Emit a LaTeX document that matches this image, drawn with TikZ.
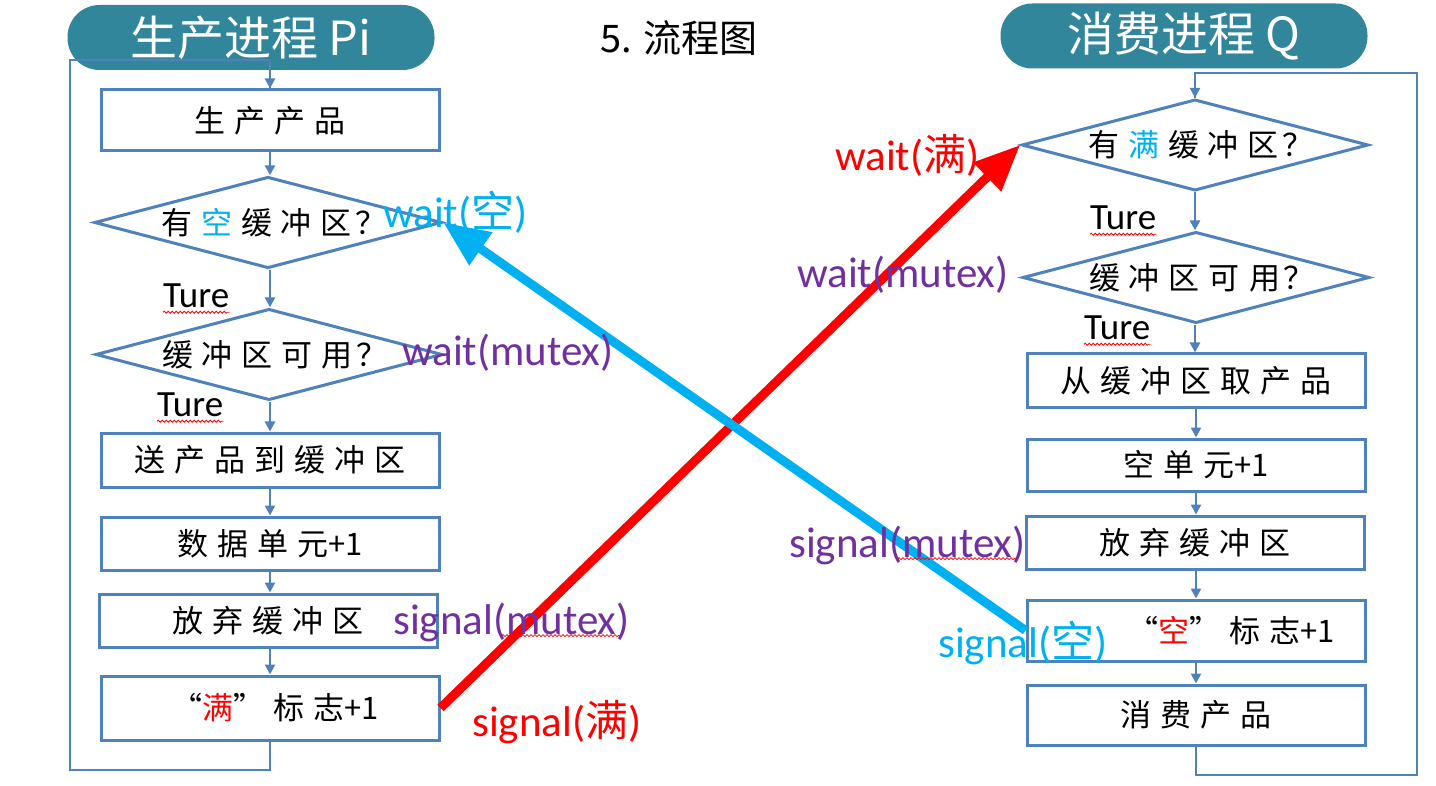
\documentclass[tikz,border=0pt]{standalone}
\usepackage{fontspec}
\setmainfont{Carlito}
\newfontfamily\cjk{Noto Sans CJK SC}
\usetikzlibrary{shapes.geometric,arrows.meta,decorations.pathmorphing}
\definecolor{teal1}{RGB}{49,134,155}
\definecolor{flowblue}{RGB}{79,129,189}
\definecolor{cyan1}{RGB}{0,176,240}
\definecolor{purp}{RGB}{112,48,160}
\newcommand\ks{\hspace{9pt}}
\begin{document}
\begin{tikzpicture}[x=1pt,y=-1pt,
 box/.style={draw=flowblue, line width=3pt, minimum width=338pt, inner sep=0pt, font=\cjk\fontsize{31}{31}\selectfont},
 dia/.style={draw=flowblue, line width=3pt, diamond, aspect=3.8, minimum width=340pt, minimum height=89pt, inner sep=0pt, font=\cjk\fontsize{31}{31}\selectfont},
 flow/.style={draw=flowblue, line width=2.5pt, -{Triangle[length=10pt,width=10pt]}},
 loopline/.style={draw=flowblue, line width=2.5pt},
 pill/.style={fill=teal1, rounded corners=32pt, minimum width=367pt, minimum height=65pt, inner sep=0pt, text=white, font=\cjk\fontsize{47}{47}\selectfont},
 lbl/.style={anchor=west, inner sep=0pt, font=\fontsize{43}{43}\selectfont},
 ture/.style={anchor=west, inner sep=0pt, font=\fontsize{37}{37}\selectfont},
 big/.style={line width=9pt, -{Triangle[length=46pt,width=38pt]}},
 spell/.style={draw=red, line width=0.8pt, decorate, decoration={snake, amplitude=1pt, segment length=4pt}}
]
\useasboundingbox[fill=white] (0,0) rectangle (1436,786);

% titles
\node[pill] (pL) at (251,37.5) {生产进程 Pi};
\node[pill] (pR) at (1184,36) {消费进程 Q};
\node[font=\cjk\fontsize{38}{38}\selectfont, inner sep=0pt] (ttl) at (679,38) {5. 流程图};

% left column
\node[box, minimum height=61pt] (b1) at (270,120.5) {生\ks 产\ks 产\ks 品};
\node[dia] (d1) at (268,222.5) {\hspace{12pt}有\ks{\color{cyan1}空}\ks 缓\ks 冲\ks 区\hspace{4pt}？};
\node[dia, minimum width=343pt] (d2) at (269,354.5) {\hspace{12pt}缓\ks 冲\ks 区\ks 可\ks 用\hspace{4pt}？};
\node[box, minimum height=54pt] (b3) at (270,460) {送\ks 产\ks 品\ks 到\ks 缓\ks 冲\ks 区};
\node[box, minimum height=53pt] (b4) at (270,543.5) {数\ks 据\ks 单\ks 元+1};
\node[box, minimum height=53pt] (b5) at (268,620.5) {放\ks 弃\ks 缓\ks 冲\ks 区};
\node[box, minimum height=64pt] (b6) at (270,708) {\hspace{10pt}“{\color{red}满}”\ks 标\ks 志+1};
\coordinate (lb) at (70,770);
\coordinate (lt) at (70,60);

% right column
\node[dia, minimum height=90pt] (rd1) at (1195,145) {\hspace{12pt}有\ks{\color{cyan1}满}\ks 缓\ks 冲\ks 区\hspace{4pt}？};
\node[dia, minimum width=338pt] (rd2) at (1196,277.5) {\hspace{12pt}缓\ks 冲\ks 区\ks 可\ks 用\hspace{4pt}？};
\node[box, minimum height=54pt] (r1) at (1196,381) {从\ks 缓\ks 冲\ks 区\ks 取\ks 产\ks 品};
\node[box, minimum height=52pt] (r2) at (1196,465) {空\ks 单\ks 元+1};
\node[box, minimum height=53pt] (r3) at (1195,542.5) {放\ks 弃\ks 缓\ks 冲\ks 区};
\node[box, minimum height=61pt] (r4) at (1196,630.5) {\hspace{70pt}“{\color{red}空}”\ks 标\ks 志+1};
\node[box, minimum height=60pt] (r5) at (1196,715) {消\ks 费\ks 产\ks 品};
\coordinate (rb) at (1417,775);
\coordinate (rt) at (1417,73);

% flow connectors
\draw[loopline] (b6.south) |- (lb) -- (lt) -| ([yshift=-1pt]b1.north);
\draw[flow] (lt -| b1.north) -- (b1.north);
\draw[flow] (b1) -- (d1.north -| b1);
\draw[flow] (d1.south -| b1) -- (d2.north -| b1);
\draw[flow] (d2.south -| b1) -- (b3);
\draw[flow] (b3) -- (b4);
\draw[flow] (b4) -- (b5.north -| b4);
\draw[flow] (b5.south -| b6) -- (b6);

\draw[loopline] (r5.south) |- (rb) -- (rt) -| (rd1.north);
\draw[flow] (rt -| rd1.north) -- (rd1.north);
\draw[flow] (rd1) -- (rd2.north -| rd1);
\draw[flow] (rd2.south -| rd1) -- (r1.north -| rd1);
\draw[flow] (r1) -- (r2);
\draw[flow] (r2) -- (r3.north -| r2);
\draw[flow] (r3.south -| r4) -- (r4);
\draw[flow] (r4) -- (r5);

% big arrows
\draw[big, red] (b6.east) -- (rd1.west);
\draw[big, cyan1] (r4.west) -- (d1.east);

% Ture labels
\node[ture] (t1) at (163,296) {Ture};
\node[ture] (t2) at (157,405) {Ture};
\node[ture] (t3) at (1090,218) {Ture};
\node[ture] (t4) at (1084,328) {Ture};
\foreach \t in {t1,t2,t3,t4}
  \draw[spell] ([yshift=-4pt]\t.south west) -- ([yshift=-4pt]\t.south east);

% semaphore labels
\node[lbl, text=cyan1] (lw1) at (383,212) {wait({\cjk 空})};
\node[lbl, text=purp] (lw2) at (402,353) {wait(mutex)};
\node[lbl, text=purp] (ls1) at (393,622) {signal(mutex)};
\node[lbl, text=red] (ls2) at (472,722) {signal({\cjk 满})};
\node[lbl, text=red] (rw1) at (835,155) {wait({\cjk 满})};
\node[lbl, text=purp] (rw2) at (797,275) {wait(mutex)};
\node[lbl, text=purp] (rs1) at (789,545) {signal(mutex)};
\node[lbl, text=cyan1] (rs2) at (938,643) {signal({\cjk 空})};
\draw[spell] ([xshift=-128pt,yshift=6pt]ls1.south east) -- ([xshift=-10pt,yshift=6pt]ls1.south east);
\draw[spell] ([xshift=-128pt,yshift=6pt]rs1.south east) -- ([xshift=-10pt,yshift=6pt]rs1.south east);
\end{tikzpicture}
\end{document}
